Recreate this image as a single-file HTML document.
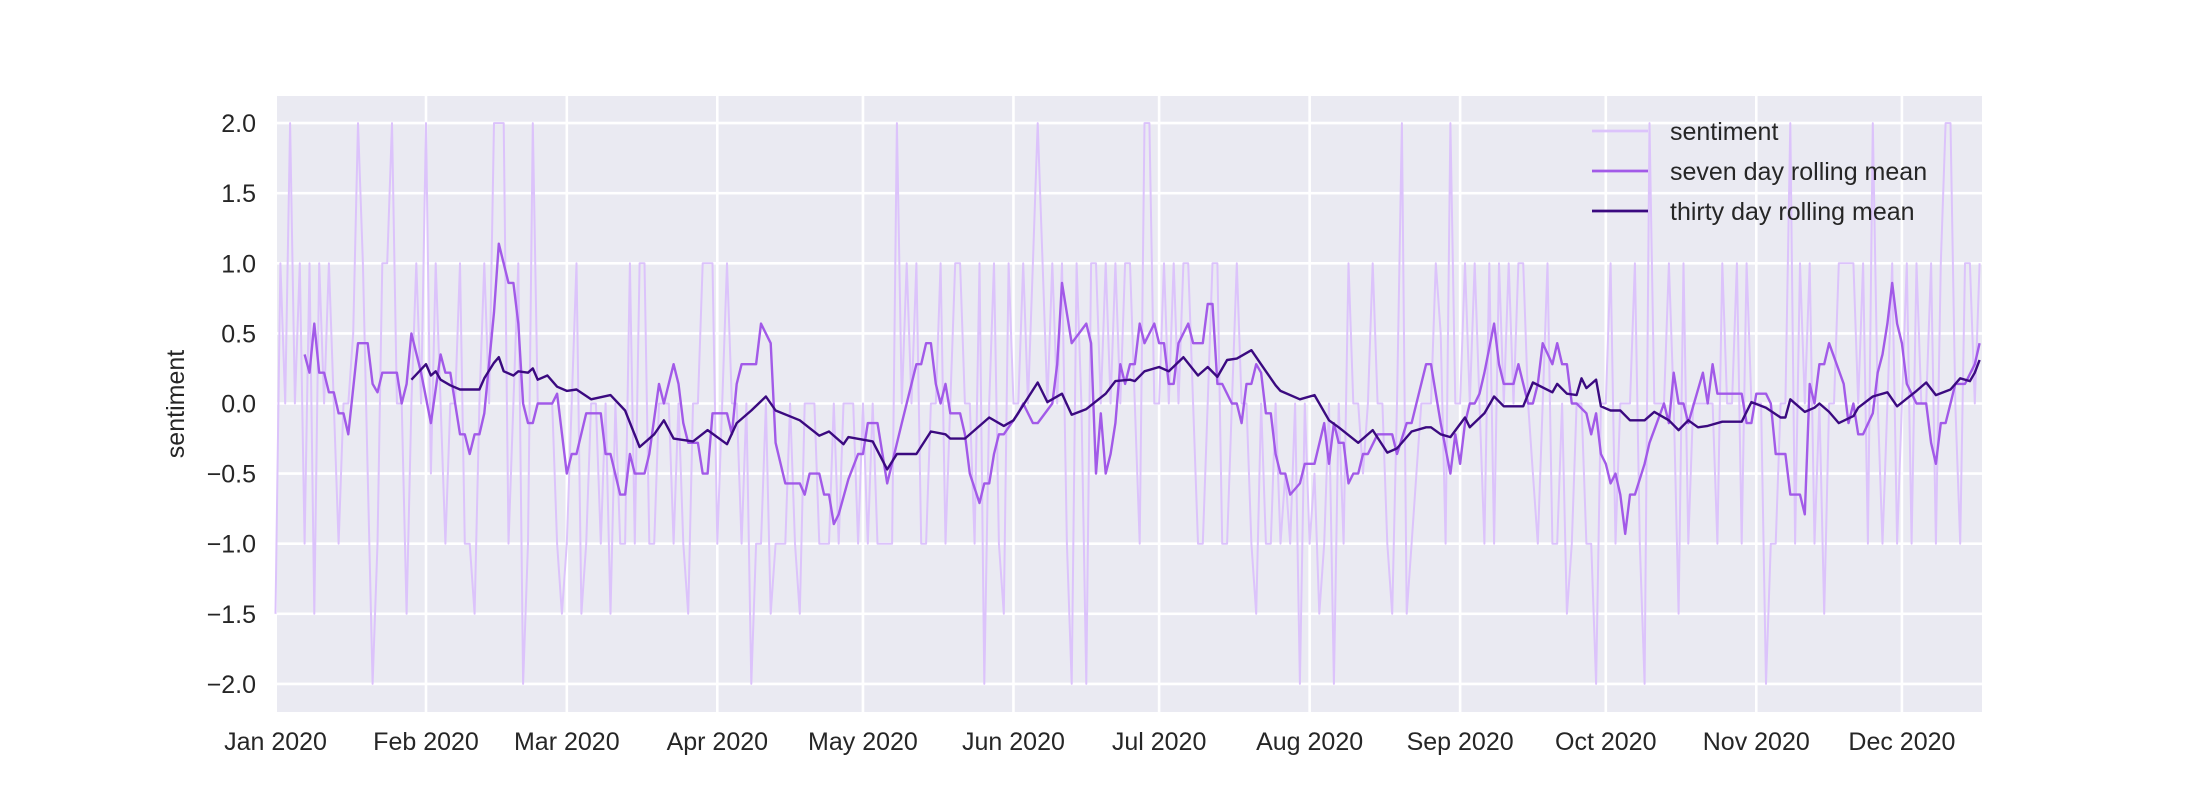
<!DOCTYPE html>
<html>
<head>
<meta charset="utf-8">
<style>
html,body{margin:0;padding:0;background:#fff;}
svg{display:block;font-family:"Liberation Sans",Arial,sans-serif;}
</style>
</head>
<body>
<svg id="chart" width="2200" height="800" viewBox="0 0 2200 800" xmlns="http://www.w3.org/2000/svg">
  <rect x="277" y="96" width="1705" height="616" fill="#eaeaf2"/>
  <g id="grid"></g>
  <g id="series"></g>
  <g id="xticks"></g>
  <g id="yticks"></g>
  <text x="0" y="0" transform="translate(184,404) rotate(-90)" text-anchor="middle" font-size="25" fill="#262626">sentiment</text>
  <g id="legend"></g>
</svg>
<script>
// ---- data ----
const monthLabels = ["Jan 2020","Feb 2020","Mar 2020","Apr 2020","May 2020","Jun 2020","Jul 2020","Aug 2020","Sep 2020","Oct 2020","Nov 2020","Dec 2020"];
const monthStartDays = [0,31,60,91,121,152,182,213,244,274,305,335];
const yTickValues = [-2.0,-1.5,-1.0,-0.5,0.0,0.5,1.0,1.5,2.0];
const yTickLabels = ["\u22122.0","\u22121.5","\u22121.0","\u22120.5","0.0","0.5","1.0","1.5","2.0"];

const sentimentValues = [
-1.5,1,0,2,0,1,-1,1,-1.5,1,0,1,0,-1,0,0,0.5,2,1,-0.5,-2,-1,1,1,2,0,0,-1.5,0,1,0,
2,-0.5,1,0,-1,0,0,1,-1,-1,-1.5,0,1,0,2,2,2,-1,0,1,-2,-1,2,0,0,0,0,-1,-1.5,
-1,0,1,-1.5,-1,0,0,-1,0,-1.5,0,-1,-1,1,-1,1,1,-1,-1,0,0,0,-1,0,-1,-1.5,0,0,1,1,1,
-1,0,1,0,0,-1,0,-2,-1,-1,0,-1.5,-1,-1,-1,0,-1,-1.5,0,0,0,-1,-1,-1,0,-1,0,0,0,-1,
0,-1,0,-1,-1,-1,-1,2,0,1,0,1,-1,-1,0,0,1,-1,0,1,1,0,0,-1,1,-2,0,1,-1,-1.5,1,
0,0,1,0,1,2,1,0,1,0,1,-1,-2,1,0,-2,1,1,0,1,0,1,0,1,1,0,-1,2,2,0,
0,1,0,1,0,1,1,0,-1,-1,0,1,1,-1,-1,0,1,0,0,-1,-1.5,0,-1,-1,0,-1,-0.5,-1,0,-2,0,
-1,-0.5,-1.5,-1,0,-2,0,-1,1,0,0,-0.5,0,1,0,0,-1,-1.5,0,2,-1.5,-1,-0.5,0,0,0,1,0.5,-1,2,0,
0,1,0,1,0,-1,1,-1,1,0,1,0,1,1,0,-0.5,-1,0,1,-1,-1,0,-1.5,-1,0,0,-1,-1,-2,0,
0,1,-1,0,0,0,1,-1,-2,2,0,0,0,1,0,-1.5,1,-1,0,0,0,0,0,-1,1,0,0,1,-1,1,0,
0,0,-2,-1,-1,0,0,2,-1,1,0,1,-1,0,-1.5,0,0,1,1,1,1,0,1,-1,2,0,-1,0,1,-1,
0,1,-1,1,0,0,1,-1,1,2,2,0,-1,1,1,0,1
];

const sevenDays = [6,7,8,9,10,11,12,13,14,15,17,19,20,21,22,25,26,27,28,30,32,34,35,36,38,39,40,41,42,43,45,46,48,49,50,51,52,53,54,57,58,60,61,62,64,67,68,69,71,72,73,74,76,77,79,80,82,83,84,85,87,88,89,90,93,94,95,96,99,100,102,103,105,108,109,110,112,113,114,115,116,118,120,121,122,124,126,129,132,133,134,135,136,137,138,139,141,142,143,145,146,147,148,149,150,153,154,156,157,160,161,162,164,167,168,169,170,171,172,173,174,175,176,177,178,179,181,182,183,184,185,186,188,189,191,192,193,194,195,197,198,199,200,201,202,203,204,205,206,207,208,209,211,212,214,216,217,218,219,220,221,222,223,224,225,227,230,231,233,234,235,237,238,239,240,242,243,244,245,246,247,248,249,251,252,253,255,256,258,259,260,261,263,264,265,266,267,268,270,271,272,273,274,275,276,277,278,279,280,282,283,286,287,288,289,290,291,294,295,296,297,298,302,303,304,305,307,308,309,311,312,314,315,316,317,318,319,320,323,324,325,326,327,329,330,331,332,333,334,335,336,338,340,341,342,343,344,345,346,348,350,351];
const sevenValues = [0.35,0.22,0.57,0.22,0.22,0.08,0.08,-0.07,-0.07,-0.22,0.43,0.43,0.14,0.08,0.22,0.22,0.0,0.14,0.5,0.22,-0.14,0.35,0.22,0.22,-0.22,-0.22,-0.36,-0.22,-0.22,-0.07,0.65,1.14,0.86,0.86,0.57,0.0,-0.14,-0.14,0.0,0.0,0.07,-0.5,-0.36,-0.36,-0.07,-0.07,-0.36,-0.36,-0.65,-0.65,-0.36,-0.5,-0.5,-0.36,0.14,0.0,0.28,0.14,-0.14,-0.28,-0.28,-0.5,-0.5,-0.07,-0.07,-0.22,0.14,0.28,0.28,0.57,0.43,-0.28,-0.57,-0.57,-0.65,-0.5,-0.5,-0.65,-0.65,-0.86,-0.79,-0.54,-0.36,-0.36,-0.14,-0.14,-0.57,-0.14,0.28,0.28,0.43,0.43,0.14,0.0,0.14,-0.07,-0.07,-0.22,-0.5,-0.71,-0.57,-0.57,-0.36,-0.22,-0.22,-0.07,0.0,-0.14,-0.14,0.0,0.28,0.86,0.43,0.57,0.43,-0.5,-0.07,-0.5,-0.36,-0.14,0.28,0.14,0.28,0.28,0.57,0.43,0.57,0.43,0.43,0.14,0.14,0.43,0.57,0.43,0.43,0.71,0.71,0.14,0.14,0.0,0.0,-0.14,0.14,0.14,0.28,0.22,-0.07,-0.07,-0.36,-0.5,-0.5,-0.65,-0.57,-0.43,-0.43,-0.14,-0.43,-0.14,-0.28,-0.28,-0.57,-0.5,-0.5,-0.36,-0.36,-0.22,-0.22,-0.36,-0.14,-0.14,0.0,0.28,0.28,0.07,-0.14,-0.5,-0.22,-0.43,-0.14,0.0,0.0,0.07,0.22,0.57,0.28,0.14,0.14,0.28,0.0,0.0,0.14,0.43,0.28,0.43,0.28,0.28,0.0,0.0,-0.07,-0.22,-0.07,-0.36,-0.43,-0.57,-0.5,-0.65,-0.93,-0.65,-0.65,-0.43,-0.28,0.0,-0.14,0.22,0.0,0.0,-0.14,0.22,0.0,0.28,0.07,0.07,0.07,-0.14,-0.14,0.07,0.07,0.0,-0.36,-0.36,-0.65,-0.65,-0.79,0.14,0.0,0.28,0.28,0.43,0.14,-0.14,0.0,-0.22,-0.22,-0.07,0.22,0.35,0.57,0.86,0.57,0.43,0.14,0.0,0.0,-0.28,-0.43,-0.14,-0.14,0.0,0.14,0.14,0.28,0.43,0.71,0.43,0.71,0.57];

const thirtyDays = [28,31,32,33,34,36,38,42,43,45,46,47,49,50,52,53,54,56,58,60,62,65,69,72,75,78,80,82,86,89,93,95,98,101,103,108,112,114,117,118,123,126,128,132,135,138,139,142,147,150,152,157,159,162,164,167,171,173,176,177,179,182,184,187,190,192,194,196,198,201,204,206,207,211,214,217,219,223,226,229,231,234,237,238,240,242,245,246,249,251,253,257,259,263,264,266,268,269,270,272,273,275,277,279,281,282,284,287,289,291,293,295,298,302,304,307,310,311,312,315,317,318,320,322,325,326,329,332,334,338,340,342,345,347,349,350,351];
const thirtyValues = [0.17,0.28,0.2,0.23,0.17,0.13,0.1,0.1,0.18,0.29,0.33,0.23,0.2,0.23,0.22,0.25,0.17,0.2,0.12,0.09,0.1,0.03,0.06,-0.05,-0.31,-0.22,-0.12,-0.25,-0.27,-0.19,-0.29,-0.14,-0.05,0.05,-0.05,-0.12,-0.23,-0.2,-0.29,-0.24,-0.27,-0.47,-0.36,-0.36,-0.2,-0.22,-0.25,-0.25,-0.1,-0.16,-0.12,0.15,0.01,0.07,-0.08,-0.04,0.07,0.16,0.17,0.16,0.23,0.26,0.23,0.33,0.2,0.26,0.19,0.31,0.32,0.38,0.23,0.13,0.09,0.03,0.06,-0.12,-0.17,-0.28,-0.19,-0.35,-0.32,-0.2,-0.17,-0.17,-0.22,-0.24,-0.1,-0.17,-0.07,0.05,-0.02,-0.02,0.15,0.08,0.14,0.07,0.06,0.18,0.11,0.17,-0.02,-0.05,-0.05,-0.12,-0.12,-0.12,-0.06,-0.12,-0.19,-0.12,-0.17,-0.16,-0.13,-0.13,0.01,-0.03,-0.1,-0.1,0.03,-0.06,-0.03,0.0,-0.06,-0.14,-0.09,-0.03,0.05,0.08,-0.02,0.09,0.15,0.06,0.1,0.18,0.16,0.22,0.31,0.31];

// ---- scales ----
const X0 = 275.5, PX_PER_DAY = 4.855;
const Y0 = 403.5, PX_PER_UNIT = 140.2;
const PLOT = {left:277, top:96, right:1982, bottom:712};
function xScale(d){ return X0 + d*PX_PER_DAY; }
function yScale(v){ return Y0 - v*PX_PER_UNIT; }

const NS = "http://www.w3.org/2000/svg";
function mk(tag, attrs, parent){
  const el = document.createElementNS(NS, tag);
  for (const k in attrs) el.setAttribute(k, attrs[k]);
  parent.appendChild(el);
  return el;
}

// grid
const grid = document.getElementById('grid');
monthStartDays.forEach((d,i)=>{
  const x = xScale(d);
  if (x < PLOT.left) return;
  const l = mk('line',{x1:x,x2:x,y1:PLOT.top,y2:PLOT.bottom,stroke:'#fff','stroke-width':2.6},grid);
  
  
});
yTickValues.forEach(v=>{
  const y = yScale(v);
  const l = mk('line',{x1:PLOT.left,x2:PLOT.right,y1:y,y2:y,stroke:'#fff','stroke-width':2.6},grid);
  
  
});

// ticks
const xt = document.getElementById('xticks');
monthLabels.forEach((lab,i)=>{
  const t = mk('text',{x:xScale(monthStartDays[i]),y:750,'text-anchor':'middle','font-size':25,fill:'#262626'},xt);
  t.textContent = lab;
  
  
});
const yt = document.getElementById('yticks');
yTickValues.forEach((v,i)=>{
  const t = mk('text',{x:256,y:yScale(v)+9,'text-anchor':'end','font-size':25,fill:'#262626'},yt);
  t.textContent = yTickLabels[i];
  
  
});

// series
const series = document.getElementById('series');
function pathFrom(days, vals){
  return days.map((d,i)=>(i?'L':'M')+xScale(d).toFixed(1)+','+yScale(vals[i]).toFixed(1)).join(' ');
}
const sentDays = sentimentValues.map((_,i)=>i);
const p1 = mk('path',{d:pathFrom(sentDays, sentimentValues),fill:'none',stroke:'#dcc3fb','stroke-width':2,'stroke-linejoin':'round'},series);


const p2 = mk('path',{d:pathFrom(sevenDays, sevenValues),fill:'none',stroke:'#a25ae8','stroke-width':2.4,'stroke-linejoin':'round'},series);


const p3 = mk('path',{d:pathFrom(thirtyDays, thirtyValues),fill:'none',stroke:'#3b0a80','stroke-width':2.4,'stroke-linejoin':'round'},series);



// legend
const lg = document.getElementById('legend');
const legendItems = [["sentiment","#dcc3fb"],["seven day rolling mean","#a25ae8"],["thirty day rolling mean","#3b0a80"]];
legendItems.forEach((it,i)=>{
  const y = 131 + i*40;
  const g = mk('g',{},lg);
  
  
  mk('line',{x1:1592,x2:1648,y1:y,y2:y,stroke:it[1],'stroke-width':2.8},g);
  const t = mk('text',{x:1670,y:y+9,'font-size':25,fill:'#262626'},g);
  t.textContent = it[0];
});
</script>
</body>
</html>
